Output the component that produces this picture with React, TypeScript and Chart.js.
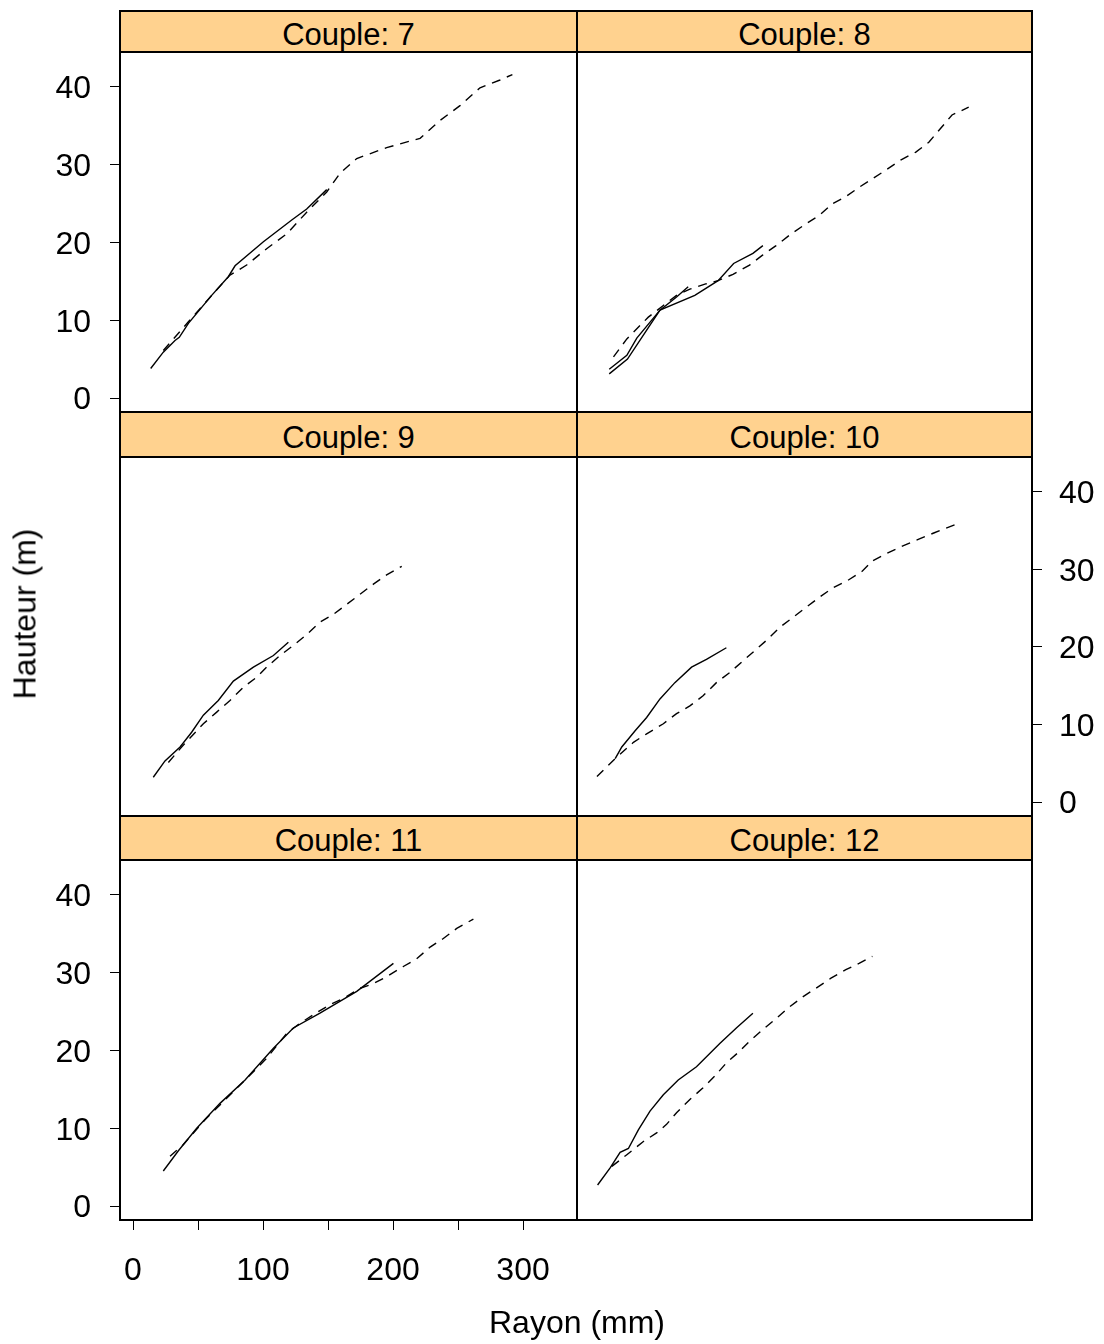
import React, { useEffect, useRef } from "react";
import { Chart, registerables } from "chart.js";

Chart.register(...registerables);

// ---------- data ----------
const X_TICKS = [0, 50, 100, 150, 200, 250, 300];
const Y_TICKS = [0, 10, 20, 30, 40];
const X_TITLE = "Rayon (mm)";
const Y_TITLE = "Hauteur (m)";

const c7SolidX = [13.6, 23.3, 32.3, 35.6, 42.6, 60.5, 73.3, 78.5, 100.3, 122.1, 133.6, 149];
const c7SolidY = [3.8, 5.9, 7.4, 7.8, 9.6, 13.2, 15.6, 17.0, 20.1, 22.9, 24.3, 26.8];
const c7DashX = [23.3, 42.6, 60.5, 74.6, 87.4, 102.8, 118.2, 133.6, 149, 159.2, 172.1, 195.1, 220.8, 236.2, 251.5, 266.9, 282.3, 291.8];
const c7DashY = [6.1, 9.8, 13.2, 15.8, 17.1, 19.2, 21.1, 23.9, 26.5, 28.9, 30.8, 32.2, 33.4, 35.7, 37.6, 39.9, 40.9, 41.6];

const c8SolidAX = [14.9, 28.5, 36.2, 54.1, 66.9, 75.9];
const c8SolidAY = [3.7, 5.5, 7.7, 11.3, 13.0, 14.3];
const c8SolidBX = [14.9, 29, 54.1, 81, 99, 111, 125.9, 133.6];
const c8SolidBY = [3.1, 5.0, 11.3, 13.2, 15.1, 17.3, 18.6, 19.6];
const c8DashX = [18.2, 28.5, 45.1, 56.7, 66.9, 77.2, 90, 99, 110.5, 123.3, 133.6, 143.8, 155.4, 166.9, 177.2, 187.4, 197.7, 207.9, 218.2, 228.5, 240, 251.5, 261.8, 269.5, 279.7, 292.6];
const c8DashY = [5.3, 7.6, 10.4, 11.9, 13.2, 14.0, 14.7, 15.1, 15.9, 17.1, 18.4, 19.6, 21.1, 22.4, 23.5, 25.0, 25.9, 27.1, 28.2, 29.3, 30.6, 31.6, 32.9, 34.4, 36.4, 37.4];

const c9SolidX = [15.6, 24.6, 36.2, 45.1, 54.1, 65.6, 77.2, 92.6, 108, 119.5];
const c9SolidY = [3.2, 5.3, 7.1, 9.0, 11.2, 13.1, 15.6, 17.4, 18.9, 20.6];
const c9DashX = [27.2, 37.4, 54.1, 64.4, 74.6, 84.9, 95.1, 102.8, 113.1, 123.3, 133.6, 143.8, 154.1, 164.4, 174.6, 184.9, 195.1, 206.7];
const c9DashY = [5.1, 7.1, 10.1, 11.6, 13.1, 14.8, 16.1, 17.4, 18.9, 20.2, 21.6, 23.2, 24.2, 25.5, 26.8, 28.1, 29.3, 30.4];

const c10SolidX = [19.5, 24.6, 34.9, 43.8, 54.1, 65.6, 78.5, 90, 105.4];
const c10SolidY = [5.6, 7.1, 9.2, 10.9, 13.3, 15.4, 17.4, 18.4, 19.9];
const c10DashX = [5.4, 19.5, 33.6, 43.8, 56.7, 66.9, 77.2, 87.4, 97.7, 108, 118.2, 128.5, 137.4, 146.4, 156.7, 166.9, 177.2, 187.4, 200.3, 210.5, 218.2, 231, 241.3, 254.1, 265.6, 282.3];
const c10DashY = [3.3, 5.6, 7.7, 8.8, 10.1, 11.4, 12.4, 13.7, 15.4, 16.7, 18.2, 19.7, 21.0, 22.5, 23.8, 25.1, 26.4, 27.6, 28.7, 29.8, 31.1, 32.2, 33.0, 33.9, 34.7, 35.8];

const c11SolidX = [23.3, 34.9, 49, 66.9, 86.2, 108, 123.3, 143.8, 172.1, 200.3];
const c11SolidY = [4.5, 7.1, 10.0, 13.2, 16.2, 20.3, 22.9, 24.8, 27.6, 31.2];
const c11DashX = [28.5, 38.7, 55.4, 66.9, 87.4, 102.8, 118.2, 128.5, 138.7, 151.5, 161.8, 174.6, 184.9, 195.1, 207.9, 218.2, 228.5, 238.7, 249, 261.8];
const c11DashY = [6.4, 7.9, 11.1, 13.0, 16.4, 19.0, 22.2, 23.5, 24.6, 25.9, 26.7, 28.0, 28.6, 29.5, 30.8, 31.8, 33.3, 34.4, 35.7, 36.9];

const c12SolidX = [5.9, 15.6, 23.3, 29.7, 37.4, 46.4, 56.7, 68.2, 82.3, 100.3, 113.1, 125.9];
const c12SolidY = [2.7, 4.9, 6.9, 7.4, 9.8, 12.2, 14.3, 16.2, 17.9, 20.9, 22.9, 24.8];
const c12DashX = [16.9, 28.5, 41.3, 51.5, 59.2, 66.9, 77.2, 87.4, 96.4, 105.4, 115.6, 123.3, 133.6, 143.8, 154.1, 164.4, 174.6, 186.2, 197.7, 207.9, 218.2];
const c12DashY = [5.1, 6.6, 8.3, 9.4, 10.5, 12.0, 13.7, 15.2, 16.7, 18.4, 19.9, 21.2, 22.7, 24.1, 25.6, 26.9, 28.0, 29.3, 30.4, 31.2, 32.1];

// ---------- layout ----------
const FONT = '"Liberation Sans", Arial, Helvetica, sans-serif';
const COLS = [120, 577, 1032];
const ROWS = [
  { stripTop: 11, top: 52, bottom: 412 },
  { stripTop: 412, top: 457, bottom: 816 },
  { stripTop: 816, top: 860, bottom: 1220 },
];
const M = 100; // side margin in canvas
const PT = 4; // top pad
const PB = 100; // bottom margin
const X_MIN = -10;
const X_MAX = 341.5;
const Y_MIN = -1.8;
const Y_MAX = 44.5;

type Series = { xs: number[]; ys: number[]; dashed: boolean };
type PanelCfg = {
  title: string;
  col: number;
  row: number;
  series: Series[];
  left: boolean;
  right: boolean;
  bottom: boolean;
};

const PANELS: PanelCfg[] = [
  { title: "Couple: 7", col: 0, row: 0, left: true, right: false, bottom: false,
    series: [{ xs: c7SolidX, ys: c7SolidY, dashed: false }, { xs: c7DashX, ys: c7DashY, dashed: true }] },
  { title: "Couple: 8", col: 1, row: 0, left: false, right: false, bottom: false,
    series: [{ xs: c8SolidAX, ys: c8SolidAY, dashed: false }, { xs: c8SolidBX, ys: c8SolidBY, dashed: false }, { xs: c8DashX, ys: c8DashY, dashed: true }] },
  { title: "Couple: 9", col: 0, row: 1, left: false, right: false, bottom: false,
    series: [{ xs: c9SolidX, ys: c9SolidY, dashed: false }, { xs: c9DashX, ys: c9DashY, dashed: true }] },
  { title: "Couple: 10", col: 1, row: 1, left: false, right: true, bottom: false,
    series: [{ xs: c10SolidX, ys: c10SolidY, dashed: false }, { xs: c10DashX, ys: c10DashY, dashed: true }] },
  { title: "Couple: 11", col: 0, row: 2, left: true, right: false, bottom: true,
    series: [{ xs: c11SolidX, ys: c11SolidY, dashed: false }, { xs: c11DashX, ys: c11DashY, dashed: true }] },
  { title: "Couple: 12", col: 1, row: 2, left: false, right: false, bottom: false,
    series: [{ xs: c12SolidX, ys: c12SolidY, dashed: false }, { xs: c12DashX, ys: c12DashY, dashed: true }] },
];

const boxPlugin = {
  id: "panelBox",
  afterDatasetsDraw(chart: any) {
    const { ctx, chartArea: a } = chart;
    ctx.save();
    ctx.strokeStyle = "#000";
    ctx.lineWidth = 2;
    ctx.strokeRect(a.left, a.top, a.right - a.left, a.bottom - a.top);
    ctx.restore();
  },
};

const tickFont = { family: FONT, size: 32 };

function yScale(position: string, show: boolean, pad: number) {
  return {
    type: "linear",
    position,
    min: Y_MIN,
    max: Y_MAX,
    afterBuildTicks: (s: any) => {
      s.ticks = Y_TICKS.map((v) => ({ value: v }));
    },
    afterFit: (s: any) => {
      s.width = M;
      s.paddingTop = 0;
      s.paddingBottom = 0;
    },
    grid: { display: show, drawOnChartArea: false, drawTicks: true, tickLength: 10, tickColor: "#000", tickWidth: 1 },
    border: { display: false },
    ticks: { display: show, padding: pad, labelOffset: 2.5, color: "#000", font: tickFont, autoSkip: false },
  };
}

function Panel({ cfg }: { cfg: PanelCfg }) {
  const ref = useRef<HTMLCanvasElement | null>(null);
  const L = COLS[cfg.col];
  const R = COLS[cfg.col + 1];
  const T = ROWS[cfg.row].top;
  const B = ROWS[cfg.row].bottom;
  const w = R - L + 2 * M;
  const h = B - T + PT + PB;

  useEffect(() => {
    if (!ref.current) return;
    const datasets = cfg.series.map((s) => ({
      data: s.xs.map((x, i) => ({ x, y: s.ys[i] })),
      borderColor: "#000",
      borderWidth: 1.4,
      borderDash: s.dashed ? [9, 7] : [],
      pointRadius: 0,
      fill: false,
      tension: 0,
      yAxisID: "y",
    }));
    const chart = new Chart(ref.current, {
      type: "line",
      data: { datasets },
      plugins: [boxPlugin],
      options: {
        responsive: false,
        animation: false,
        devicePixelRatio: 1,
        layout: { padding: { top: PT, left: 0, right: 0, bottom: 0 } },
        plugins: { legend: { display: false }, tooltip: { enabled: false } },
        events: [],
        scales: {
          x: {
            type: "linear",
            position: "bottom",
            min: X_MIN,
            max: X_MAX,
            afterBuildTicks: (s: any) => {
              s.ticks = X_TICKS.map((v) => ({ value: v }));
            },
            afterFit: (s: any) => {
              s.height = PB;
              s.paddingLeft = 0;
              s.paddingRight = 0;
            },
            grid: { display: cfg.bottom, drawOnChartArea: false, drawTicks: true, tickLength: 10, tickColor: "#000", tickWidth: 1 },
            border: { display: false },
            ticks: {
              display: cfg.bottom,
              padding: 22,
              color: "#000",
              font: tickFont,
              autoSkip: false,
              maxRotation: 0,
              callback: (v: any) => (Number(v) % 100 === 0 ? String(v) : ""),
            },
          },
          y: yScale("left", cfg.left, 19),
          y2: yScale("right", cfg.right, 17),
        },
      } as any,
    });
    return () => chart.destroy();
  }, []);

  return (
    <canvas
      ref={ref}
      width={w}
      height={h}
      style={{ position: "absolute", left: L - M, top: T - PT, width: w, height: h }}
    />
  );
}

function Strip({ cfg }: { cfg: PanelCfg }) {
  const L = COLS[cfg.col];
  const R = COLS[cfg.col + 1];
  const T = ROWS[cfg.row].stripTop;
  const B = ROWS[cfg.row].top;
  return (
    <div
      style={{
        position: "absolute",
        left: L - 1,
        top: T - 1,
        width: R - L + 2,
        height: B - T + 2,
        boxSizing: "border-box",
        border: "2px solid #000",
        background: "#FFD28F",
        display: "flex",
        alignItems: "center",
        justifyContent: "center",
        paddingTop: 6,
        fontFamily: FONT,
        fontSize: 31,
        color: "#000",
        whiteSpace: "nowrap",
      }}
    >
      {cfg.title}
    </div>
  );
}

export default function App() {
  return (
    <div style={{ position: "absolute", left: 0, top: 0, width: 1104, height: 1344, background: "#fff", overflow: "hidden" }}>
      {PANELS.map((p) => (
        <Strip key={"s" + p.title} cfg={p} />
      ))}
      {PANELS.map((p) => (
        <Panel key={"p" + p.title} cfg={p} />
      ))}
      <div
        style={{
          position: "absolute",
          left: 25,
          top: 614,
          transform: "translate(-50%, -50%) rotate(-90deg)",
          fontFamily: FONT,
          fontSize: 32,
          whiteSpace: "nowrap",
          color: "#000",
        }}
      >
        {Y_TITLE}
      </div>
      <div
        style={{
          position: "absolute",
          left: 577,
          top: 1322,
          transform: "translate(-50%, -50%)",
          fontFamily: FONT,
          fontSize: 32,
          whiteSpace: "nowrap",
          color: "#000",
        }}
      >
        {X_TITLE}
      </div>
    </div>
  );
}
